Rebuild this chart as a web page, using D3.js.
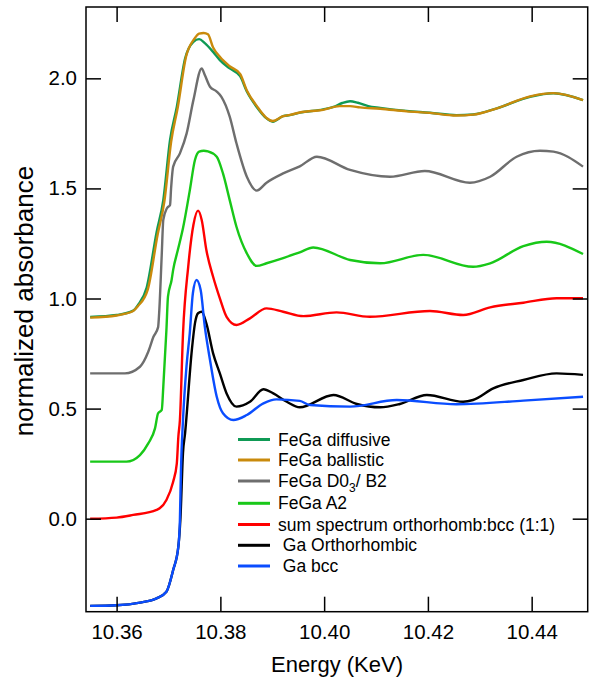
<!DOCTYPE html>
<html><head><meta charset="utf-8">
<script src="https://cdn.jsdelivr.net/npm/d3@7"></script>
<style>body{margin:0;background:#fff}svg{display:block}text{font-family:"Liberation Sans",Arial,sans-serif}</style>
</head><body>
<svg id="chart" width="591" height="677"></svg>
<script>
const xTicks = [10.36, 10.38, 10.40, 10.42, 10.44];
const yTicks = [0.0, 0.5, 1.0, 1.5, 2.0];
const seriesNames = ["FeGa diffusive","FeGa ballistic","FeGa D03/ B2","FeGa A2","sum spectrum orthorhomb:bcc (1:1)"," Ga Orthorhombic"," Ga bcc"];
const seriesColors = ["#0f9a55","#c98a0c","#6e6e6e","#18c818","#ff0000","#000000","#0a4dff"];

const feGaDiffusive = [[10.3549,0.916],[10.3600,0.925],[10.3632,0.945],[10.3641,0.97],[10.3658,1.05],[10.3677,1.30],[10.3690,1.447],[10.3703,1.72],[10.3716,1.87],[10.3732,2.09],[10.3748,2.166],[10.3759,2.178],[10.3770,2.16],[10.3786,2.12],[10.3799,2.083],[10.3818,2.045],[10.3838,2.01],[10.3851,1.94],[10.3870,1.87],[10.3889,1.818],[10.3901,1.803],[10.3921,1.828],[10.3934,1.833],[10.3953,1.844],[10.3998,1.859],[10.4018,1.870],[10.4035,1.888],[10.4050,1.896],[10.4065,1.889],[10.4085,1.874],[10.4108,1.866],[10.4159,1.852],[10.4204,1.844],[10.4255,1.833],[10.4287,1.836],[10.4333,1.864],[10.4397,1.916],[10.4442,1.932],[10.4499,1.901]];
const feGaBallistic = [[10.3549,0.913],[10.3600,0.923],[10.3632,0.943],[10.3641,0.965],[10.3660,1.04],[10.3679,1.29],[10.3692,1.44],[10.3705,1.71],[10.3718,1.87],[10.3734,2.10],[10.3750,2.18],[10.3759,2.203],[10.3768,2.206],[10.3776,2.20],[10.3786,2.14],[10.3799,2.098],[10.3818,2.055],[10.3838,2.02],[10.3851,1.945],[10.3870,1.875],[10.3889,1.82],[10.3901,1.806],[10.3921,1.828],[10.3934,1.834],[10.3953,1.845],[10.3998,1.857],[10.4030,1.874],[10.4050,1.874],[10.4069,1.868],[10.4108,1.862],[10.4159,1.85],[10.4204,1.843],[10.4255,1.831],[10.4287,1.835],[10.4333,1.864],[10.4397,1.918],[10.4442,1.933],[10.4499,1.901]];
const feGaD03B2 = [[10.3549,0.66],[10.3616,0.66],[10.3645,0.69],[10.3661,0.758],[10.3671,0.826],[10.3680,0.87],[10.3682,0.934],[10.3687,1.20],[10.3690,1.357],[10.3697,1.41],[10.3703,1.425],[10.3705,1.50],[10.3709,1.599],[10.3722,1.659],[10.3735,1.75],[10.3748,1.901],[10.3764,2.045],[10.3770,2.015],[10.3780,1.962],[10.3793,1.94],[10.3802,1.916],[10.3818,1.826],[10.3831,1.705],[10.3851,1.553],[10.3870,1.49],[10.3889,1.526],[10.3921,1.568],[10.3953,1.60],[10.3986,1.644],[10.4050,1.584],[10.4127,1.553],[10.4194,1.579],[10.4281,1.526],[10.4320,1.553],[10.4371,1.644],[10.4416,1.671],[10.4442,1.667],[10.4499,1.599]];
const feGaA2 = [[10.3549,0.259],[10.3619,0.259],[10.3645,0.289],[10.3661,0.342],[10.3674,0.41],[10.3680,0.479],[10.3687,0.494],[10.3690,0.60],[10.3696,0.857],[10.3699,1.008],[10.3706,1.084],[10.3709,1.13],[10.3718,1.22],[10.3728,1.32],[10.3741,1.49],[10.3751,1.629],[10.3759,1.667],[10.3768,1.671],[10.3776,1.668],[10.3793,1.644],[10.3805,1.568],[10.3818,1.447],[10.3831,1.326],[10.3851,1.205],[10.3870,1.148],[10.3889,1.16],[10.3921,1.183],[10.3953,1.21],[10.3979,1.232],[10.4050,1.175],[10.4108,1.16],[10.4191,1.198],[10.4287,1.144],[10.4320,1.16],[10.4384,1.238],[10.4429,1.258],[10.4499,1.202]];
const sumSpectrum = [[10.3549,0.0],[10.3600,0.005],[10.3632,0.017],[10.3677,0.04],[10.3683,0.047],[10.3696,0.085],[10.3709,0.168],[10.3716,0.25],[10.3719,0.372],[10.3722,0.448],[10.3728,0.842],[10.3738,1.144],[10.3748,1.334],[10.3757,1.399],[10.3764,1.357],[10.3773,1.22],[10.3786,1.099],[10.3799,1.001],[10.3812,0.917],[10.3831,0.88],[10.3857,0.91],[10.3889,0.955],[10.3921,0.94],[10.3960,0.92],[10.4024,0.937],[10.4088,0.917],[10.4204,0.943],[10.4268,0.925],[10.4320,0.96],[10.4384,0.981],[10.4448,1.001],[10.4499,1.001]];
const gaOrthorhombic = [[10.3549,-0.396],[10.3600,-0.393],[10.3645,-0.381],[10.3677,-0.362],[10.3696,-0.332],[10.3709,-0.233],[10.3719,-0.127],[10.3723,0.0],[10.3728,0.30],[10.3732,0.389],[10.3745,0.766],[10.3751,0.887],[10.3757,0.933],[10.3764,0.94],[10.3773,0.887],[10.3786,0.751],[10.3799,0.66],[10.3812,0.569],[10.3831,0.509],[10.3857,0.531],[10.3883,0.588],[10.3902,0.569],[10.3928,0.531],[10.3953,0.506],[10.4018,0.562],[10.4063,0.521],[10.4108,0.506],[10.4146,0.521],[10.4198,0.562],[10.4268,0.531],[10.4287,0.539],[10.4326,0.592],[10.4384,0.63],[10.4448,0.66],[10.4499,0.653]];
const gaBcc = [[10.3549,-0.396],[10.3600,-0.393],[10.3645,-0.381],[10.3677,-0.362],[10.3696,-0.332],[10.3709,-0.233],[10.3719,-0.127],[10.3722,-0.006],[10.3724,0.22],[10.3728,0.45],[10.3735,0.70],[10.3741,0.842],[10.3747,1.024],[10.3754,1.084],[10.3762,1.039],[10.3770,0.872],[10.3780,0.721],[10.3793,0.554],[10.3805,0.479],[10.3825,0.448],[10.3851,0.471],[10.3883,0.524],[10.3908,0.542],[10.3953,0.535],[10.3973,0.516],[10.4050,0.509],[10.4140,0.539],[10.4255,0.52],[10.4384,0.536],[10.4499,0.554]];

const seriesData = [feGaDiffusive, feGaBallistic, feGaD03B2, feGaA2, sumSpectrum, gaOrthorhombic, gaBcc];

const svg = d3.select("#chart");
const L = 86, R = 587.7, T = 7, B = 611.7;
const x = d3.scaleLinear().domain([10.3541, 10.4508]).range([L, R]);
const y = d3.scaleLinear().domain([-0.4225, 2.324]).range([B, T]);

const line = d3.line().x(d => x(d[0])).y(d => y(d[1])).curve(d3.curveMonotoneX);
const plot = svg.append("g");
seriesData.forEach((s, i) => {
  plot.append("path").datum(s).attr("d", line)
    .attr("fill", "none").attr("stroke", seriesColors[i]).attr("stroke-width", 2.4)
    .attr("stroke-linejoin", "round");
});

// frame
svg.append("rect").attr("x", L).attr("y", T).attr("width", R - L).attr("height", B - T)
  .attr("fill", "none").attr("stroke", "#000").attr("stroke-width", 1.5);

const tickLen = 15;
const ax = (g) => g.selectAll(".domain").remove();
svg.append("g").attr("transform", `translate(0,${B})`)
  .call(d3.axisBottom(x).tickValues(xTicks).tickSize(-tickLen).tickPadding(13).tickFormat(d3.format(".2f")))
  .call(ax).call(g => g.selectAll("text").attr("font-size", 20.5).attr("fill", "#000"))
  .call(g => g.selectAll("line").attr("stroke-width", 1.5));
svg.append("g").attr("transform", `translate(0,${T})`)
  .call(d3.axisTop(x).tickValues(xTicks).tickSize(-tickLen).tickFormat(""))
  .call(ax).call(g => g.selectAll("line").attr("stroke-width", 1.5));
svg.append("g").attr("transform", `translate(${L},0)`)
  .call(d3.axisLeft(y).tickValues(yTicks).tickSize(-tickLen).tickPadding(9).tickFormat(d3.format(".1f")))
  .call(ax).call(g => g.selectAll("text").attr("font-size", 20.5).attr("fill", "#000"))
  .call(g => g.selectAll("line").attr("stroke-width", 1.5));
svg.append("g").attr("transform", `translate(${R},0)`)
  .call(d3.axisRight(y).tickValues(yTicks).tickSize(-tickLen).tickFormat(""))
  .call(ax).call(g => g.selectAll("line").attr("stroke-width", 1.5));

// axis titles
svg.append("text").attr("x", 337).attr("y", 671.5).attr("text-anchor", "middle")
  .attr("font-size", 22).text("Energy (KeV)");
svg.append("text").attr("transform", "translate(33,301) rotate(-90)").attr("text-anchor", "middle")
  .attr("font-size", 26).text("normalized absorbance");

// legend
const rowY = [439.5, 460, 481, 503.3, 524.5, 545.3, 566];
const lg = svg.append("g");
seriesNames.forEach((n, i) => {
  lg.append("line").attr("x1", 238).attr("x2", 270).attr("y1", rowY[i]).attr("y2", rowY[i])
    .attr("stroke", seriesColors[i]).attr("stroke-width", 3);
  const t = lg.append("text").attr("x", 278).attr("y", rowY[i] + 6).attr("font-size", 17.5).attr("fill", "#000");
  if (n.indexOf("D03") >= 0) {
    const parts = n.split("D03");
    t.append("tspan").text(parts[0] + "D0");
    t.append("tspan").attr("font-size", 12).attr("dy", 5).text("3");
    t.append("tspan").attr("dy", -5).text(parts[1]);
  } else {
    t.attr("xml:space", "preserve").style("white-space", "pre").text(n);
  }
});
</script>
</body></html>
